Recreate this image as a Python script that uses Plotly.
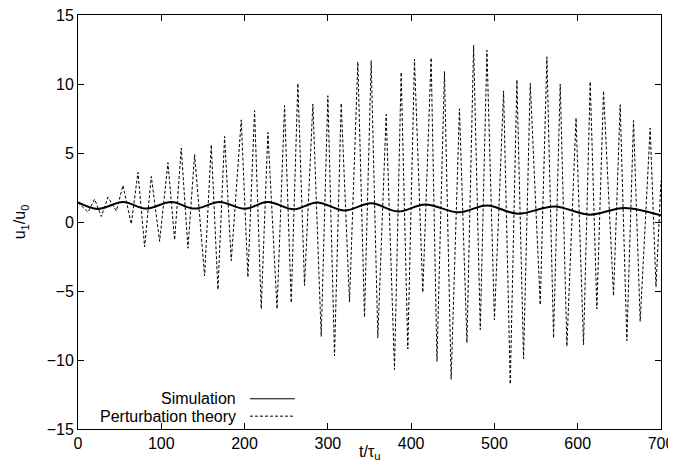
import plotly.graph_objects as go

# Simulation: extrema (time, value)
sim_t = [0, 24, 54, 82, 112, 140, 170, 200, 228, 259, 287, 320, 352, 384, 417, 457,
         491, 528, 572, 614, 656, 700]
sim_u = [1.42, 0.95, 1.45, 0.97, 1.45, 0.97, 1.45, 0.96, 1.45, 0.92, 1.42, 0.83, 1.35,
         0.76, 1.27, 0.70, 1.20, 0.60, 1.13, 0.53, 1.02, 0.48]

# Perturbation theory: alternating peaks / troughs
pt_t = [0, 12, 20, 28, 36, 46, 54, 64, 72, 80, 88, 98, 108, 116, 124, 132, 140, 152,
        160, 168, 176, 184, 196, 204, 212, 220, 228, 239, 248, 256, 264, 272, 282, 292,
        300, 308, 316, 326, 336, 344, 352, 360, 370, 380, 388, 396, 404, 414, 424, 431,
        440, 448, 458, 467, 475, 483, 491, 500, 511, 519, 527, 535, 543, 555, 563, 571,
        579, 587, 598, 607, 615, 623, 631, 643, 651, 659, 667, 675, 687, 694, 700]
pt_u = [1.4, 0.72, 1.65, 0.4, 1.8, 0.8, 2.65, -0.15, 3.6, -1.8, 3.3, -1.4, 4.3, -1.3,
        5.35, -1.9, 4.9, -3.9, 5.6, -4.9, 6.2, -2.8, 7.4, -4.0, 8.07, -6.3, 6.5, -6.3,
        8.43, -5.85, 10.05, -4.6, 8.55, -8.3, 9.15, -9.7, 8.6, -5.8, 11.6, -6.9, 11.7,
        -8.4, 7.8, -10.7, 10.85, -9.2, 11.8, -5.1, 11.9, -10.1, 10.9, -11.4, 8.2, -8.75,
        12.8, -7.8, 12.45, -7.1, 9.5, -11.75, 10.3, -9.9, 10.05, -6.0, 11.97, -8.4, 10.0,
        -9.0, 7.55, -8.9, 10.17, -6.3, 9.5, -5.35, 8.5, -8.6, 7.35, -7.2, 6.8, -4.7, 3.0]

x_ticks = [0, 100, 200, 300, 400, 500, 600, 700]
y_ticks = [-15, -10, -5, 0, 5, 10, 15]
legend_names = ["Simulation", "Perturbation theory"]
x_title = "t/τ<sub>u</sub>"
y_title = "u<sub>1</sub>/u<sub>0</sub>"

FONT = "Liberation Sans, Arial, Helvetica, sans-serif"

fig = go.Figure()
fig.add_trace(go.Scatter(x=pt_t, y=pt_u, mode="lines", name=legend_names[1],
                         line=dict(color="black", width=1, dash="3px,2px"),
                         showlegend=False))
fig.add_trace(go.Scatter(x=sim_t, y=sim_u, mode="lines", name=legend_names[0],
                         line=dict(color="black", width=2, shape="spline", smoothing=1.0),
                         showlegend=False))

# Manual legend (text to the left of the line sample, as in the original)
leg_y = [0.073, 0.031]
leg_dash = ["solid", "3px,2px"]
for name, yy, dsh in zip(legend_names, leg_y, leg_dash):
    fig.add_annotation(x=0.274, y=yy, xref="paper", yref="paper", text=name,
                       showarrow=False, xanchor="right", yanchor="middle",
                       font=dict(family=FONT, size=16, color="black"))
    fig.add_shape(type="line", xref="paper", yref="paper", x0=0.295, x1=0.372,
                  y0=yy, y1=yy, line=dict(color="black", width=1, dash=dsh))

# Axis titles
fig.add_annotation(x=0.5, y=-0.0556, xref="paper", yref="paper", text=x_title,
                   showarrow=False, xanchor="center", yanchor="middle",
                   font=dict(family=FONT, size=16, color="black"))
fig.add_annotation(x=-0.099, y=0.5, xref="paper", yref="paper", text=y_title,
                   showarrow=False, xanchor="center", yanchor="middle", textangle=-90,
                   font=dict(family=FONT, size=16, color="black"))

# The page body adds an 8px offset; compensate in size and margins
fig.update_layout(
    width=668, height=452,
    margin=dict(l=70, r=15, t=7, b=31),
    paper_bgcolor="white", plot_bgcolor="white",
    font=dict(family=FONT, size=16, color="black"),
    xaxis=dict(range=[0, 700], tickvals=x_ticks, ticks="inside", ticklen=6,
               tickcolor="black", showline=True, linecolor="black", linewidth=1,
               mirror="ticks", showgrid=False, zeroline=False, automargin=False,
               ticklabeloverflow="allow"),
    yaxis=dict(range=[-15, 15], tickvals=y_ticks, ticks="inside", ticklen=6,
               tickcolor="black", showline=True, linecolor="black", linewidth=1,
               mirror="ticks", showgrid=False, zeroline=False, automargin=False,
               ticklabeloverflow="allow"),
)

fig.write_html("out.html")
